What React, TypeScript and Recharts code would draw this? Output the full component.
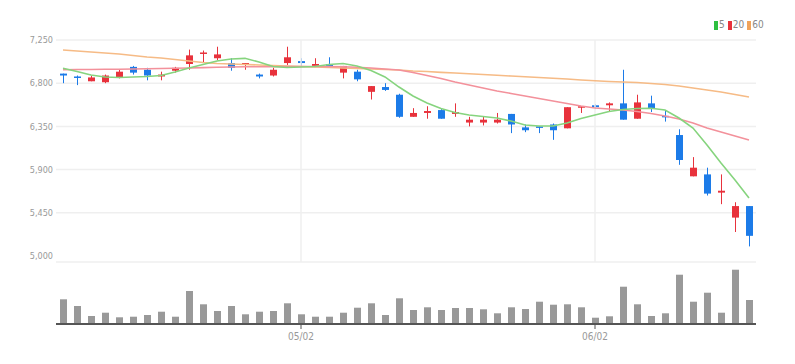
import React from 'react';
import {
  ComposedChart,
  BarChart,
  Bar,
  Line,
  XAxis,
  YAxis,
  CartesianGrid,
  ReferenceLine,
} from 'recharts';

const dates = [
  '04/06', '04/07', '04/10', '04/11', '04/12', '04/13', '04/14', '04/17', '04/18', '04/19',
  '04/20', '04/21', '04/24', '04/25', '04/26', '04/27', '04/28', '05/02', '05/03', '05/04',
  '05/08', '05/09', '05/10', '05/11', '05/12', '05/15', '05/16', '05/17', '05/18', '05/19',
  '05/22', '05/23', '05/24', '05/25', '05/26', '05/30', '05/31', '06/01', '06/02', '06/05',
  '06/07', '06/08', '06/09', '06/12', '06/13', '06/14', '06/15', '06/16', '06/19', '06/20',
];

const opens = [
  6900, 6870, 6820, 6810, 6860, 6970, 6940, 6870, 6930, 7000,
  7110, 7060, 7010, 7000, 6890, 6880, 7010, 7030, 6980, 7000,
  6910, 6920, 6710, 6760, 6680, 6450, 6490, 6520, 6480, 6390,
  6390, 6390, 6480, 6340, 6350, 6370, 6330, 6550, 6570, 6570,
  6590, 6430, 6590, 6460, 6260, 5830, 5850, 5660, 5400, 5520,
];
const highs = [
  6900, 6880, 6880, 6890, 6940, 6980, 6960, 6920, 6970, 7150,
  7140, 7180, 7060, 7010, 6900, 6960, 7180, 7060, 7060, 7070,
  6980, 6940, 6770, 6800, 6690, 6540, 6560, 6530, 6590, 6450,
  6450, 6490, 6480, 6370, 6350, 6380, 6550, 6560, 6580, 6600,
  6940, 6680, 6670, 6520, 6320, 6030, 5920, 5850, 5560, 5520,
];
const lows = [
  6800, 6780, 6820, 6800, 6850, 6890, 6830, 6830, 6910, 6940,
  7020, 7040, 6930, 6940, 6850, 6870, 6990, 6980, 6970, 6960,
  6850, 6820, 6630, 6720, 6440, 6450, 6430, 6430, 6450, 6350,
  6360, 6380, 6280, 6290, 6280, 6210, 6330, 6490, 6530, 6500,
  6420, 6430, 6500, 6400, 5950, 5830, 5630, 5540, 5250, 5100,
];
const closes = [
  6880, 6860, 6860, 6880, 6920, 6910, 6880, 6890, 6960, 7090,
  7120, 7100, 6960, 7010, 6870, 6940, 7070, 7010, 7000, 6970,
  6980, 6840, 6770, 6730, 6450, 6490, 6510, 6430, 6500, 6420,
  6420, 6420, 6370, 6310, 6340, 6310, 6550, 6560, 6550, 6590,
  6420, 6600, 6540, 6450, 6000, 5920, 5650, 5680, 5520, 5210,
];

const ma5 = [
  6955, 6922, 6885, 6865, 6859, 6865, 6870, 6880, 6917, 6958,
  6995, 7031, 7052, 7059, 7021, 6974, 6964, 6969, 6974, 6995,
  7005, 6979, 6932, 6865, 6760, 6667, 6594, 6536, 6495, 6469,
  6453, 6437, 6406, 6365, 6354, 6354, 6385, 6432, 6469, 6505,
  6526, 6536, 6539, 6521, 6437, 6333, 6156, 5969, 5792, 5604,
];
const ma20 = [
  6940, 6942, 6943, 6945, 6946, 6948, 6950, 6953, 6955, 6959,
  6962, 6966, 6969, 6971, 6972, 6972, 6974, 6974, 6974, 6973,
  6971, 6966, 6958, 6948, 6937, 6911, 6880, 6849, 6812, 6781,
  6750, 6719, 6693, 6667, 6641, 6615, 6589, 6562, 6542, 6531,
  6521, 6505, 6484, 6458, 6427, 6385, 6333, 6292, 6250, 6208,
];
const ma60 = [
  7146, 7135, 7125, 7115, 7104, 7089, 7073, 7062, 7047, 7031,
  7016, 7005, 7000, 6995, 6990, 6984, 6979, 6974, 6969, 6964,
  6958, 6953, 6948, 6943, 6937, 6927, 6922, 6913, 6906, 6898,
  6890, 6883, 6875, 6867, 6859, 6852, 6844, 6833, 6825, 6818,
  6812, 6807, 6797, 6786, 6771, 6750, 6729, 6708, 6682, 6656,
];

const volumes = [
  247000, 180000, 80000, 113000, 67000, 73000, 90000, 123000, 73000, 330000,
  197000, 130000, 180000, 97000, 123000, 130000, 207000, 97000, 73000, 73000,
  113000, 163000, 207000, 90000, 257000, 140000, 167000, 140000, 160000, 160000,
  147000, 107000, 167000, 150000, 223000, 193000, 197000, 167000, 63000, 77000,
  373000, 197000, 80000, 107000, 493000, 223000, 313000, 113000, 543000, 240000,
];

const priceTicks = [5000, 5450, 5900, 6350, 6800, 7250];
const dateTicks = ['05/02', '06/02'];

const UP = '#e8323c';
const DOWN = '#1c7be8';
const FONT = "'Liberation Sans Narrow', 'DejaVu Sans Condensed', sans-serif";

const rows = dates.map((date, i) => ({
  date,
  open: opens[i],
  high: highs[i],
  low: lows[i],
  close: closes[i],
  ma5: ma5[i],
  ma20: ma20[i],
  ma60: ma60[i],
  volume: volumes[i],
}));

// body + wick, positioned from the [low, high] range bar recharts hands us
const Candle = (props: any) => {
  const { x, y, width, height, payload } = props;
  if (x == null || y == null) return null;
  const { open, close, high, low } = payload;
  const span = high - low || 1;
  const toY = (p: number) => y + ((high - p) / span) * height;
  const up = close >= open;
  const color = up ? UP : DOWN;
  const top = toY(Math.max(open, close));
  const bot = toY(Math.min(open, close));
  const cx = x + width / 2;
  return (
    <g>
      <line x1={cx} x2={cx} y1={y} y2={y + height} stroke={color} strokeWidth={1} />
      <rect x={x} y={top} width={width} height={Math.max(bot - top, 1.5)} fill={color} />
    </g>
  );
};

const legendItems = [
  { label: '5', color: '#2fbf3f' },
  { label: '20', color: '#e8323c' },
  { label: '60', color: '#f0a35a' },
];

export default function App() {
  return (
    <div style={{ position: 'absolute', left: 0, top: 0, width: 795, height: 364, background: '#fff' }}>
      <div
        style={{
          position: 'absolute',
          left: 714,
          top: 20,
          display: 'flex',
          alignItems: 'center',
          fontFamily: FONT,
          fontSize: 10,
          color: '#888',
          lineHeight: '10px',
        }}
      >
        {legendItems.map((it) => (
          <span key={it.label} style={{ display: 'flex', alignItems: 'center', marginRight: 3 }}>
            <span style={{ display: 'inline-block', width: 4, height: 9, background: it.color, marginRight: 1 }} />
            {it.label}
          </span>
        ))}
      </div>

      <div style={{ position: 'absolute', left: 0, top: 0 }}>
        <ComposedChart width={795} height={264} data={rows} margin={{ top: 40, right: 39, bottom: 2, left: 0 }}>
          <CartesianGrid vertical={false} stroke="#efefef" strokeWidth={1.5} />
          <XAxis dataKey="date" tick={false} tickLine={false} height={0} axisLine={{ stroke: '#333', strokeWidth: 2 }} />
          <YAxis
            domain={[4937.5, 7250]}
            ticks={priceTicks}
            width={56}
            axisLine={false}
            tickLine={false}
            tickSize={0}
            tickMargin={3}
            tickFormatter={(v: number) => v.toLocaleString('en-US')}
            tick={{ fontSize: 9, fill: '#999', fontFamily: FONT }}
          />
          {dateTicks.map((d) => (
            <ReferenceLine key={d} x={d} stroke="#efefef" strokeWidth={1.5} />
          ))}
          <Line type="linear" dataKey="ma60" stroke="#f6bb86" strokeWidth={1.6} dot={false} isAnimationActive={false} />
          <Line type="linear" dataKey="ma20" stroke="#f3919b" strokeWidth={1.6} dot={false} isAnimationActive={false} />
          <Line type="linear" dataKey="ma5" stroke="#86d47e" strokeWidth={1.6} dot={false} isAnimationActive={false} />
          <Bar
            dataKey={(d: any) => [d.low, d.high]}
            barSize={7}
            shape={<Candle />}
            isAnimationActive={false}
          />
        </ComposedChart>
      </div>

      <div style={{ position: 'absolute', left: 0, top: 262 }}>
        <BarChart width={795} height={102} data={rows} margin={{ top: 2, right: 39, bottom: 0, left: 56 }}>
          <XAxis
            dataKey="date"
            ticks={dateTicks}
            height={40}
            interval={0}
            axisLine={{ stroke: '#555', strokeWidth: 2 }}
            tickLine={{ stroke: '#555' }}
            tickSize={5}
            tickMargin={4}
            tick={{ fontSize: 10, fill: '#999', fontFamily: FONT }}
          />
          <YAxis hide domain={[0, 600000]} />
          <Bar dataKey="volume" fill="#999" barSize={7} isAnimationActive={false} />
        </BarChart>
      </div>
    </div>
  );
}
